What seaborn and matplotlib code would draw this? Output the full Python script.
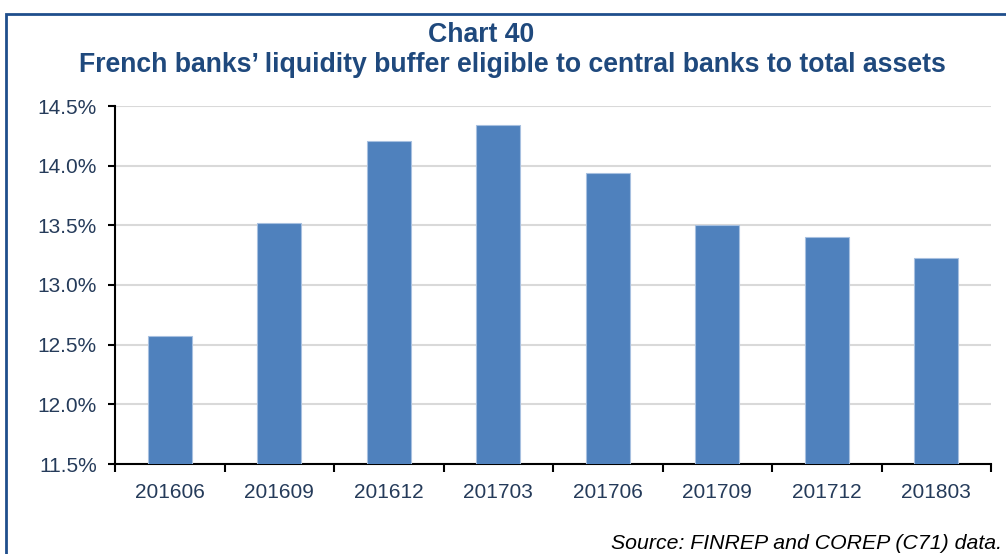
import numpy as np
import pandas as pd
import matplotlib.pyplot as plt
from matplotlib.patches import Rectangle
from matplotlib.ticker import FuncFormatter, FixedLocator, NullFormatter
import seaborn as sns

# Chart data
periods = ["201606", "201609", "201612", "201703", "201706", "201709", "201712", "201803"]
buffer_pct = [12.57, 13.52, 14.21, 14.34, 13.94, 13.50, 13.40, 13.23]

TITLE_1 = "Chart 40"
TITLE_2 = "French banks\u2019 liquidity buffer eligible to central banks to total assets"
SOURCE = "Source: FINREP and COREP (C71) data."

BAR_COLOR = "#4F81BD"
TITLE_COLOR = "#1F497D"
TEXT_COLOR = "#253B5A"

sns.set_style("white")
plt.rcParams["font.family"] = ["Liberation Sans", "DejaVu Sans"]

df = pd.DataFrame({"period": periods, "value": buffer_pct})

W, H = 1006, 554
fig = plt.figure(figsize=(W / 100, H / 100), dpi=100)
ax = fig.add_axes([115 / W, 1 - 464 / H, (991 - 115) / W, (464 - 106) / H])

sns.barplot(data=df, x="period", y="value", color=BAR_COLOR, width=0.4,
            saturation=1, edgecolor="#A7C0E0", linewidth=0.8, ax=ax, zorder=3)

ax.set_ylim(11.5, 14.5)
ax.set_xlim(-0.5, len(periods) - 0.5)
ax.set_yticks(np.arange(11.5, 14.51, 0.5))
ax.yaxis.set_major_formatter(FuncFormatter(lambda v, _: f"{v:.1f}%"))
ax.yaxis.grid(True, color="#D9D9D9", linewidth=1.5, zorder=0)
ax.set_axisbelow(True)

# x ticks sit between categories, labels centred under bars
ax.xaxis.set_major_locator(FixedLocator(np.arange(-0.5, len(periods), 1.0)))
ax.xaxis.set_major_formatter(NullFormatter())
ax.xaxis.set_minor_locator(FixedLocator(np.arange(len(periods))))
ax.set_xticklabels(periods, minor=True)
ax.tick_params(axis="x", which="major", direction="out", length=6, width=1.5,
               color="black", bottom=True)
ax.tick_params(axis="x", which="minor", length=0, pad=14, labelsize=15,
               labelcolor=TEXT_COLOR)
ax.tick_params(axis="y", direction="out", length=5, width=1.5, color="black",
               left=True, labelsize=15, labelcolor=TEXT_COLOR, pad=8)

ax.set_xlabel("")
ax.set_ylabel("")
for side in ["top", "right"]:
    ax.spines[side].set_visible(False)
for side in ["left", "bottom"]:
    ax.spines[side].set_color("black")
    ax.spines[side].set_linewidth(1.5)

# titles and source
fig.text(481 / W, 1 - 42 / H, TITLE_1, ha="center", va="baseline",
         fontsize=19.2, fontweight="bold", color=TITLE_COLOR)
fig.text(512 / W, 1 - 72 / H, TITLE_2, ha="center", va="baseline",
         fontsize=19.2, fontweight="bold", color=TITLE_COLOR)
fig.text(1002 / W, 1 - 549 / H, SOURCE, ha="right", va="baseline",
         fontsize=15.3, style="italic", color="black")

# frame around the chart (runs off the right and bottom edges)
fig.patches.append(Rectangle((6 / W, -0.05), 1.1, 1 - 14 / H + 0.05,
                             transform=fig.transFigure, fill=False,
                             edgecolor="#1F4E8C", linewidth=2))

fig.savefig("out.png", dpi=100)
